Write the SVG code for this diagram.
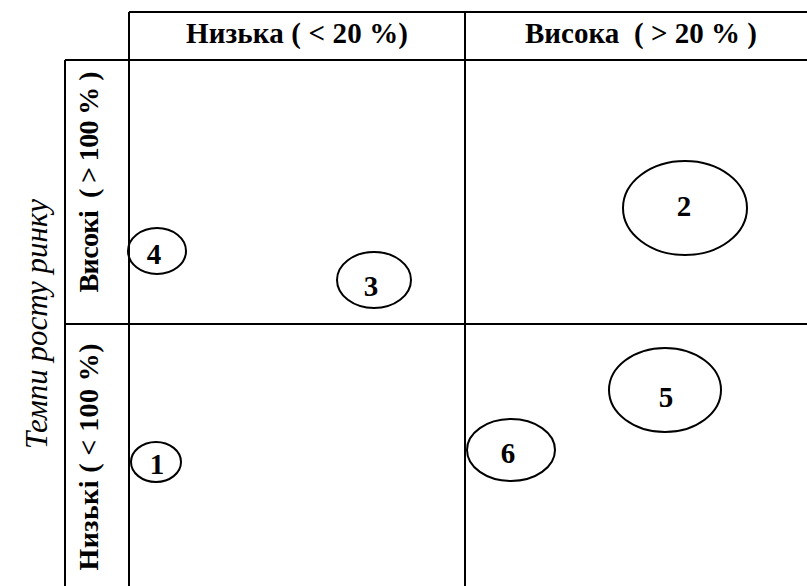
<svg xmlns="http://www.w3.org/2000/svg" width="807" height="586" viewBox="0 0 807 586">
  <style>
    .grid { stroke: #000; stroke-width: 2; fill: none; }
    .head { font-family: "Liberation Serif", "Times New Roman", serif; font-weight: bold; font-size: 29px; fill: #000; }
    .rowhead { font-family: "Liberation Serif", "Times New Roman", serif; font-weight: bold; font-size: 28px; fill: #000; }
    .axis { font-family: "Liberation Serif", "Times New Roman", serif; font-style: italic; font-size: 31px; fill: #000; }
    .bubble { stroke: #000; stroke-width: 2; fill: none; }
    .num { font-family: "Liberation Serif", "Times New Roman", serif; font-weight: bold; font-size: 29px; fill: #000; text-anchor: middle; }
  </style>

  <!-- matrix grid -->
  <g id="grid" class="grid">
    <line x1="129" y1="12" x2="807" y2="12"/>
    <line x1="65" y1="60" x2="807" y2="60"/>
    <line x1="65" y1="324" x2="807" y2="324"/>
    <line x1="65" y1="60" x2="65" y2="586"/>
    <line x1="129" y1="12" x2="129" y2="586"/>
    <line x1="465" y1="12" x2="465" y2="586"/>
  </g>

  <!-- column headers -->
  <g id="col-low">
    <text class="head" x="297" y="43" text-anchor="middle" textLength="222" lengthAdjust="spacing">Низька ( &lt; 20 %)</text>
  </g>
  <g id="col-high">
    <text class="head" x="641" y="43" text-anchor="middle" xml:space="preserve" textLength="232" lengthAdjust="spacing">Висока  ( &gt; 20 % )</text>
  </g>

  <!-- row headers -->
  <g id="row-high">
    <text class="rowhead" transform="translate(98,182) rotate(-90)" text-anchor="middle" xml:space="preserve" textLength="221" lengthAdjust="spacing">Високі  ( &gt; 100 % )</text>
  </g>
  <g id="row-low">
    <text class="rowhead" transform="translate(98,457) rotate(-90)" text-anchor="middle" textLength="227" lengthAdjust="spacing">Низькі ( &lt; 100 %)</text>
  </g>

  <!-- vertical axis title -->
  <g id="axis-title">
    <text class="axis" transform="translate(47,324) rotate(-90)" text-anchor="middle">Темпи росту ринку</text>
  </g>

  <!-- positioned bubbles -->
  <g id="b1">
    <ellipse class="bubble" cx="156" cy="462" rx="25" ry="20"/>
    <text class="num" x="157" y="474">1</text>
  </g>
  <g id="b2">
    <ellipse class="bubble" cx="685" cy="208" rx="62" ry="47"/>
    <text class="num" x="684" y="216">2</text>
  </g>
  <g id="b3">
    <ellipse class="bubble" cx="374" cy="280" rx="37" ry="28"/>
    <text class="num" x="371" y="296">3</text>
  </g>
  <g id="b4">
    <ellipse class="bubble" cx="157" cy="251" rx="29" ry="23"/>
    <text class="num" x="154" y="264">4</text>
  </g>
  <g id="b5">
    <ellipse class="bubble" cx="665" cy="390" rx="56" ry="42"/>
    <text class="num" x="666" y="407">5</text>
  </g>
  <g id="b6">
    <ellipse class="bubble" cx="511" cy="450" rx="44" ry="31"/>
    <text class="num" x="508" y="463">6</text>
  </g>
</svg>
